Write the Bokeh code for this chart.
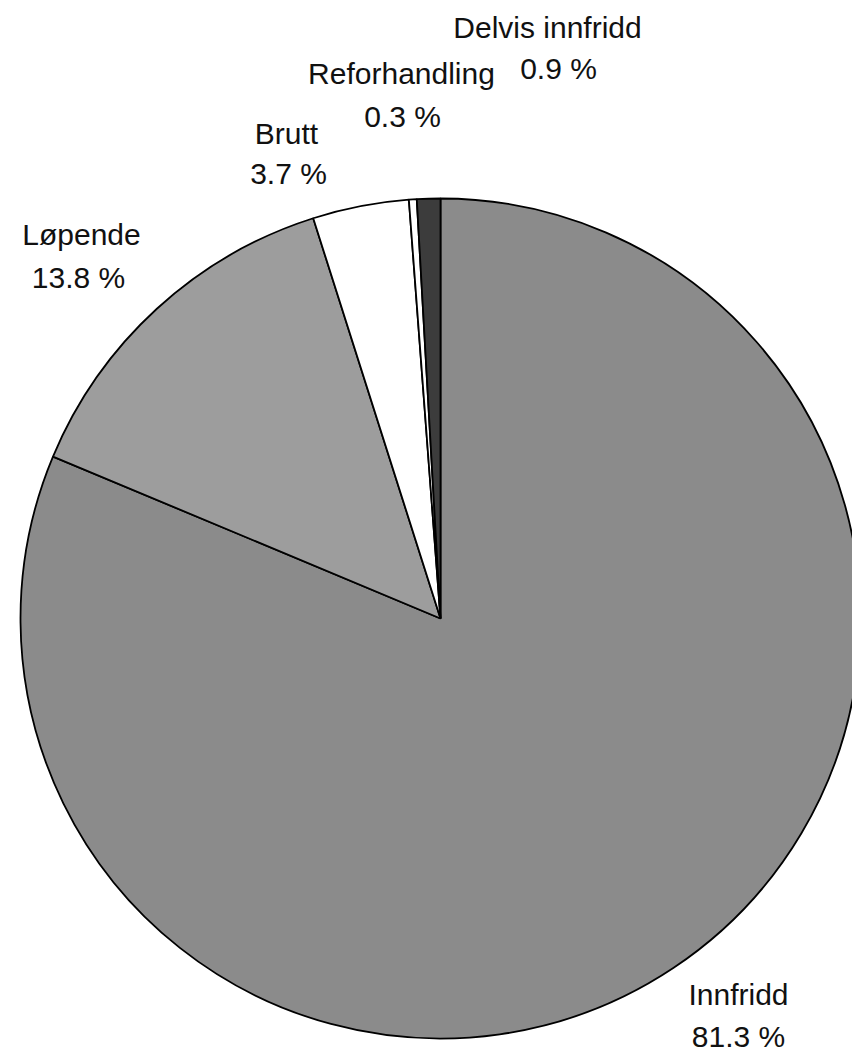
import math
from bokeh.plotting import figure
from bokeh.models import Range1d, ColumnDataSource
from bokeh.core.properties import value
from bokeh.embed import file_html
from bokeh.resources import INLINE

# ---- data ----
categories = ["Innfridd", "Løpende", "Brutt", "Reforhandling", "Delvis innfridd"]
shares = [81.3, 13.8, 3.7, 0.3, 0.9]
colors = ["#8b8b8b", "#9d9d9d", "#ffffff", "#ffffff", "#3c3c3c"]

# label anchor positions (screen pixels: centre x, baseline y of name line, baseline y of pct line)
label_x_name = [738, 81, 286, 401, 547]
label_x_pct = [738, 78, 288, 402, 558]
label_y_name = [1004, 244, 143, 83, 37]
label_y_pct = [1046, 287, 183, 126, 78]
BASELINE_FIX = -10  # renderer places alphabetic baseline lower than requested

W, H = 852, 1056
LEFT, TOP = 0, 0
cx, cy_screen, R = 440, 618, 420


def sy(y):
    return 1056 - y


# ---- wedges (clockwise from 12 o'clock) ----
total = sum(shares)
starts, ends = [], []
cum = 0.0
for s in shares:
    a0 = math.pi / 2 - 2 * math.pi * (cum + s) / total
    a1 = math.pi / 2 - 2 * math.pi * cum / total
    starts.append(a0)
    ends.append(a1)
    cum += s

src = ColumnDataSource(dict(start=starts, end=ends, color=colors, cat=categories))

p = figure(width=W, height=H, output_backend="svg", toolbar_location=None,
           x_range=Range1d(LEFT, LEFT + W), y_range=Range1d(sy(TOP + H), sy(TOP)),
           min_border=0, outline_line_color=None)
p.axis.visible = False
p.grid.visible = False
p.background_fill_color = "white"
p.border_fill_color = "white"

p.wedge(x=cx, y=sy(cy_screen), radius=R, start_angle="start", end_angle="end",
        fill_color="color", line_color="black", line_width=1.8, source=src)

name_src = ColumnDataSource(dict(x=label_x_name, y=[sy(v + BASELINE_FIX) for v in label_y_name], t=categories))
pct_src = ColumnDataSource(dict(x=label_x_pct, y=[sy(v + BASELINE_FIX) for v in label_y_pct],
                                t=[f"{v:.1f} %" for v in shares]))
for s in (name_src, pct_src):
    p.text(x="x", y="y", text="t", source=s, text_font=value("Liberation Sans"),
           text_font_size="30px", text_color="#111111", text_align="center",
           text_baseline="alphabetic")

open("out.html", "w").write(file_html(p, INLINE))
